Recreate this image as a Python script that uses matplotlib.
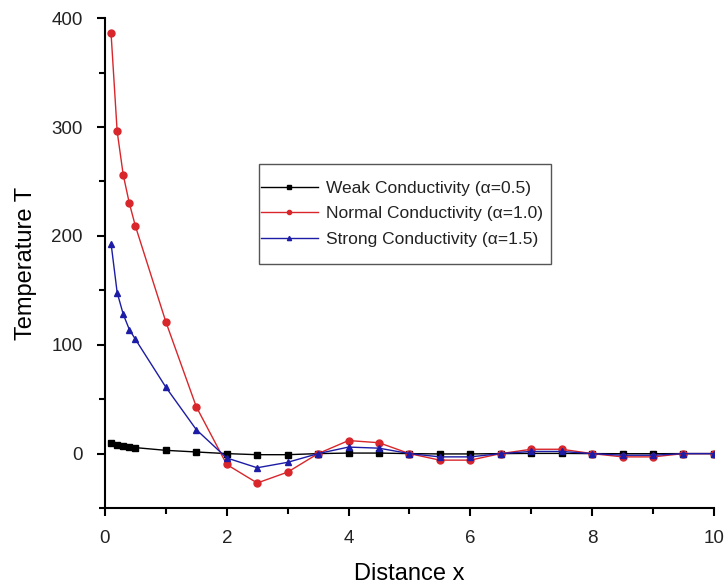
import matplotlib.pyplot as plt
from matplotlib.ticker import MultipleLocator
from matplotlib.patches import Rectangle

plt.rcParams['font.family'] = ['Liberation Sans', 'DejaVu Sans']
plt.rcParams['text.color'] = '#222222'
plt.rcParams['xtick.labelcolor'] = '#222222'
plt.rcParams['ytick.labelcolor'] = '#222222'

# 측정 위치
x_vals = [0.1, 0.2, 0.3, 0.4, 0.5, 1.0, 1.5, 2.0, 2.5, 3.0, 3.5, 4.0, 4.5,
          5.0, 5.5, 6.0, 6.5, 7.0, 7.5, 8.0, 8.5, 9.0, 9.5, 10.0]

# 온도 값
weak_T = [10, 8, 7, 6, 5.5, 3, 1.5, 0, -1, -1, 0, 0.5, 0.5,
          0, -0.3, -0.3, 0, 0.2, 0.2, 0, -0.1, -0.1, 0, 0]
normal_T = [386, 296, 256, 230, 209, 121, 43, -10, -27, -17, 0, 12, 10,
            0, -6, -6, 0, 4, 4, 0, -3, -3, 0, 0]
strong_T = [193, 148, 128, 114, 105, 61, 22, -4, -13, -8, 0, 6, 5,
            0, -3, -3, 0, 2, 2, 0, -1.5, -1.5, 0, 0]

labels = ['Weak Conductivity (\u03b1=0.5)',
          'Normal Conductivity (\u03b1=1.0)',
          'Strong Conductivity (\u03b1=1.5)']

fig = plt.figure(figsize=(7.24, 5.88), dpi=100)
ax = fig.add_axes([0.145, 0.136, 0.841, 0.833])

ax.plot(x_vals, weak_T, color='black', marker='s', markersize=4, linewidth=1, label=labels[0])
ax.plot(x_vals, normal_T, color='#d8262b', marker='o', markersize=5, linewidth=1, label=labels[1])
ax.plot(x_vals, strong_T, color='#1c1ca6', marker='^', markersize=5, linewidth=1, label=labels[2])

ax.set_xlim(0, 10)
ax.set_ylim(-50, 400)
ax.xaxis.set_major_locator(MultipleLocator(2))
ax.xaxis.set_minor_locator(MultipleLocator(1))
ax.yaxis.set_major_locator(MultipleLocator(100))
ax.yaxis.set_minor_locator(MultipleLocator(50))

ax.spines['top'].set_visible(False)
ax.spines['right'].set_visible(False)
ax.spines['left'].set_linewidth(1.5)
ax.spines['bottom'].set_linewidth(1.5)
ax.tick_params(which='major', direction='out', length=6, width=1.5, labelsize=13.5, pad=10)
ax.tick_params(which='minor', direction='out', length=4, width=1.5)

ax.set_xlabel('Distance x', fontsize=17, labelpad=11)
ax.set_ylabel('Temperature T', fontsize=17, labelpad=10)

# 범례 (테두리는 따로 그림: 위아래 여백이 더 큼)
leg = ax.legend(loc='upper left', bbox_to_anchor=(0.253, 0.672), borderaxespad=0,
                fontsize=12.5, frameon=False,
                handlelength=3.3, handletextpad=0.45, borderpad=0.1,
                labelspacing=0.6, markerscale=0.6)

fig.canvas.draw()
bb = leg.get_window_extent()
vpad = 15
frame = Rectangle((bb.x0, bb.y0 - vpad), bb.width + 6, bb.height + 2 * vpad,
                  transform=None, fill=False, edgecolor='#555555', linewidth=1)
fig.patches.append(frame)

fig.savefig('out.png', dpi=100)
